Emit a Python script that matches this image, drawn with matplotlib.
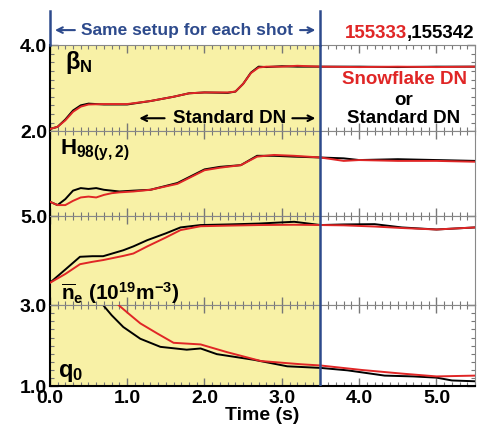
import matplotlib
matplotlib.use("Agg")
import matplotlib.pyplot as plt
from matplotlib.ticker import AutoMinorLocator, MultipleLocator

plt.rcParams['font.family'] = ['Liberation Sans Narrow', 'Liberation Sans', 'DejaVu Sans']
plt.rcParams['font.weight'] = 'bold'
plt.rcParams['mathtext.fontset'] = 'custom'
plt.rcParams['mathtext.rm'] = 'Liberation Sans:bold'
plt.rcParams['mathtext.it'] = 'Liberation Sans:bold'
plt.rcParams['mathtext.bf'] = 'Liberation Sans:bold'

RED = '#e02626'
BLACK = '#000000'
BLUE = '#2d4a8c'
YELLOW = '#f8f1a6'

# beta_N
t_beta = [0, 0.1, 0.2, 0.3, 0.4, 0.5, 0.7, 1.0, 1.3, 1.6, 1.8, 2.0, 2.3, 2.4,
          2.5, 2.6, 2.7, 2.8, 3.0, 3.2, 3.5, 4.0, 4.5, 5.0, 5.5]
beta_red = [2.05, 2.1, 2.25, 2.45, 2.57, 2.62, 2.63, 2.63, 2.7, 2.8, 2.88, 2.9, 2.9,
            2.92, 3.1, 3.35, 3.48, 3.5, 3.5, 3.52, 3.5, 3.49, 3.5, 3.49, 3.5]
beta_black = [2.05, 2.1, 2.27, 2.48, 2.6, 2.64, 2.62, 2.62, 2.7, 2.8, 2.88, 2.9, 2.89,
              2.92, 3.1, 3.36, 3.5, 3.49, 3.51, 3.5, 3.5, 3.5, 3.49, 3.5, 3.5]

# H98(y,2)
t_h98 = [0, 0.1, 0.2, 0.3, 0.4, 0.5, 0.6, 0.7, 0.8, 0.9, 1.08, 1.3, 1.65, 2.0,
         2.2, 2.47, 2.68, 2.9, 3.16, 3.5, 3.8, 4.0, 4.5, 5.0, 5.5]
h98_black = [0.67, 0.63, 0.7, 0.8, 0.83, 0.82, 0.83, 0.81, 0.8, 0.79, 0.8, 0.81, 0.89,
             1.05, 1.08, 1.1, 1.21, 1.21, 1.2, 1.19, 1.18, 1.16, 1.17, 1.16, 1.15]
h98_red = [0.67, 0.63, 0.63, 0.68, 0.72, 0.73, 0.72, 0.75, 0.77, 0.78, 0.79, 0.81, 0.88,
           1.04, 1.07, 1.1, 1.2, 1.22, 1.21, 1.19, 1.15, 1.16, 1.15, 1.15, 1.14]

# line-averaged density n_e (10^19 m^-3)
t_ne = [0, 0.2, 0.39, 0.55, 0.69, 0.95, 1.08, 1.26, 1.5, 1.69, 1.95, 2.3, 2.7,
        3.16, 3.5, 3.8, 4.2, 4.55, 5.0, 5.5]
ne_black = [2.75, 3.2, 3.63, 3.65, 3.65, 3.85, 3.98, 4.19, 4.42, 4.62, 4.7, 4.72,
            4.75, 4.81, 4.7, 4.72, 4.73, 4.62, 4.55, 4.62]
ne_red = [2.75, 3.05, 3.38, 3.46, 3.52, 3.66, 3.74, 3.98, 4.28, 4.53, 4.66, 4.68,
          4.7, 4.71, 4.7, 4.69, 4.65, 4.6, 4.55, 4.62]

# q0
t_q0_black = [0.69, 0.8, 0.95, 1.17, 1.43, 1.77, 1.95, 2.16, 2.4, 2.64, 3.07, 3.5,
              3.85, 4.33, 4.7, 5.0, 5.2, 5.5]
q0_black = [3.0, 2.75, 2.46, 2.17, 1.97, 1.9, 1.93, 1.79, 1.72, 1.65, 1.49, 1.45,
            1.39, 1.26, 1.24, 1.21, 1.14, 1.12]
t_q0_red = [0.89, 1.0, 1.17, 1.39, 1.6, 1.95, 2.29, 2.73, 3.25, 3.5, 4.03, 4.55,
            5.0, 5.5]
q0_red = [3.0, 2.82, 2.55, 2.3, 2.07, 2.03, 1.84, 1.62, 1.54, 1.51, 1.4, 1.31,
          1.24, 1.26]

fig = plt.figure(figsize=(4.79, 4.30), dpi=100)
gs = fig.add_gridspec(4, 1, left=0.104, right=0.992, top=0.895, bottom=0.102,
                      hspace=0, height_ratios=[86, 85, 89, 81])
axes = [fig.add_subplot(gs[i]) for i in range(4)]

panels = [
    (t_beta, beta_black, t_beta, beta_red, (2.0, 4.0), [2.0, 4.0], ['2.0', '4.0']),
    (t_h98, h98_black, t_h98, h98_red, (0.5, 1.5), [], []),
    (t_ne, ne_black, t_ne, ne_red, (2.0, 5.0), [5.0], ['5.0']),
    (t_q0_black, q0_black, t_q0_red, q0_red, (1.0, 3.0), [1.0, 3.0], ['1.0', '3.0']),
]

for ax, (tb, yb, tr, yr, ylim, yt, ytl) in zip(axes, panels):
    ax.axvspan(0, 3.5, color=YELLOW, zorder=0, lw=0)
    ax.plot(tb, yb, color=BLACK, lw=1.4, zorder=2)
    ax.plot(tr, yr, color=RED, lw=1.4, zorder=3)
    ax.axvline(3.5, color=BLUE, lw=1.8, zorder=4)
    ax.set_xlim(0, 5.5)
    ax.set_ylim(*ylim)
    ax.set_yticks(yt)
    ax.set_yticklabels(ytl, fontsize=14, fontweight='bold')
    ax.yaxis.set_minor_locator(AutoMinorLocator(10))
    ax.xaxis.set_major_locator(MultipleLocator(1.0))
    ax.xaxis.set_minor_locator(MultipleLocator(0.1))
    ax.tick_params(which='both', direction='in', top=True, right=True,
                   color='#777777')
    ax.tick_params(which='major', length=6, width=1.0, pad=2)
    ax.tick_params(which='minor', length=3, width=0.8)
    for side in ['top', 'bottom', 'right']:
        ax.spines[side].set_color('#888888')
    ax.spines['left'].set_color('black')
    ax.spines['left'].set_linewidth(1.5)
    if ax is not axes[-1]:
        ax.tick_params(labelbottom=False)

axes[-1].set_xticks([0, 1, 2, 3, 4, 5])
axes[-1].set_xticklabels(['0.0', '1.0', '2.0', '3.0', '4.0', '5.0'],
                         fontsize=14, fontweight='bold')
axes[-1].tick_params(axis='x', pad=3)
axes[-1].set_xlabel('Time (s)', fontsize=14, fontweight='bold', labelpad=0)
axes[-1].spines['bottom'].set_color('black')
axes[-1].spines['bottom'].set_linewidth(1.5)

# panel labels
axes[0].text(0.2, 3.6, r'$\beta_N$', fontsize=17, va='center')
axes[1].text(0.13, 1.27, r'H$_{98(y,2)}$', fontsize=16, va='center')
axes[2].text(0.15, 2.4, r'$\overline{n}_e$ (10$^{19}$m$^{-3}$)',
             fontsize=15, va='center')
axes[3].text(0.1, 1.33, r'q$_0$', fontsize=17, va='center')

# annotations in the top panel
top = axes[0]
top.plot([0, 0], [4.0, 4.8], color=BLUE, lw=1.8, clip_on=False, zorder=4)
top.plot([3.5, 3.5], [4.0, 4.8], color=BLUE, lw=1.8, clip_on=False, zorder=4)
top.text(1.77, 4.35, 'Same setup for each shot', color=BLUE, fontsize=12.5,
         ha='center', va='center')
top.annotate('', xy=(0.03, 4.35), xytext=(0.36, 4.35), annotation_clip=False,
             arrowprops=dict(arrowstyle='->', color=BLUE, lw=1.5))
top.annotate('', xy=(3.47, 4.35), xytext=(3.2, 4.35), annotation_clip=False,
             arrowprops=dict(arrowstyle='->', color=BLUE, lw=1.5))

t1 = top.text(5.49, 4.28, ',155342', color=BLACK, fontsize=13.5, ha='right', va='center')
fig.canvas.draw()
bb = t1.get_window_extent()
x_disp = top.transData.inverted().transform((bb.x0, 0))[0]
top.text(x_disp, 4.28, '155333', color=RED, fontsize=13.5, ha='right', va='center')

top.text(4.58, 3.19, 'Snowflake DN', color=RED, fontsize=13.5, ha='center', va='center')
top.text(4.58, 2.72, 'or', color=BLACK, fontsize=13.5, ha='center', va='center')
top.text(4.58, 2.3, 'Standard DN', color=BLACK, fontsize=13.5, ha='center', va='center')

top.text(2.32, 2.3, 'Standard DN', color=BLACK, fontsize=13.5, ha='center', va='center')
top.annotate('', xy=(1.12, 2.3), xytext=(1.52, 2.3),
             arrowprops=dict(arrowstyle='->', color=BLACK, lw=1.5))
top.annotate('', xy=(3.47, 2.3), xytext=(3.1, 2.3),
             arrowprops=dict(arrowstyle='->', color=BLACK, lw=1.5))

fig.savefig('out.png', dpi=100)
